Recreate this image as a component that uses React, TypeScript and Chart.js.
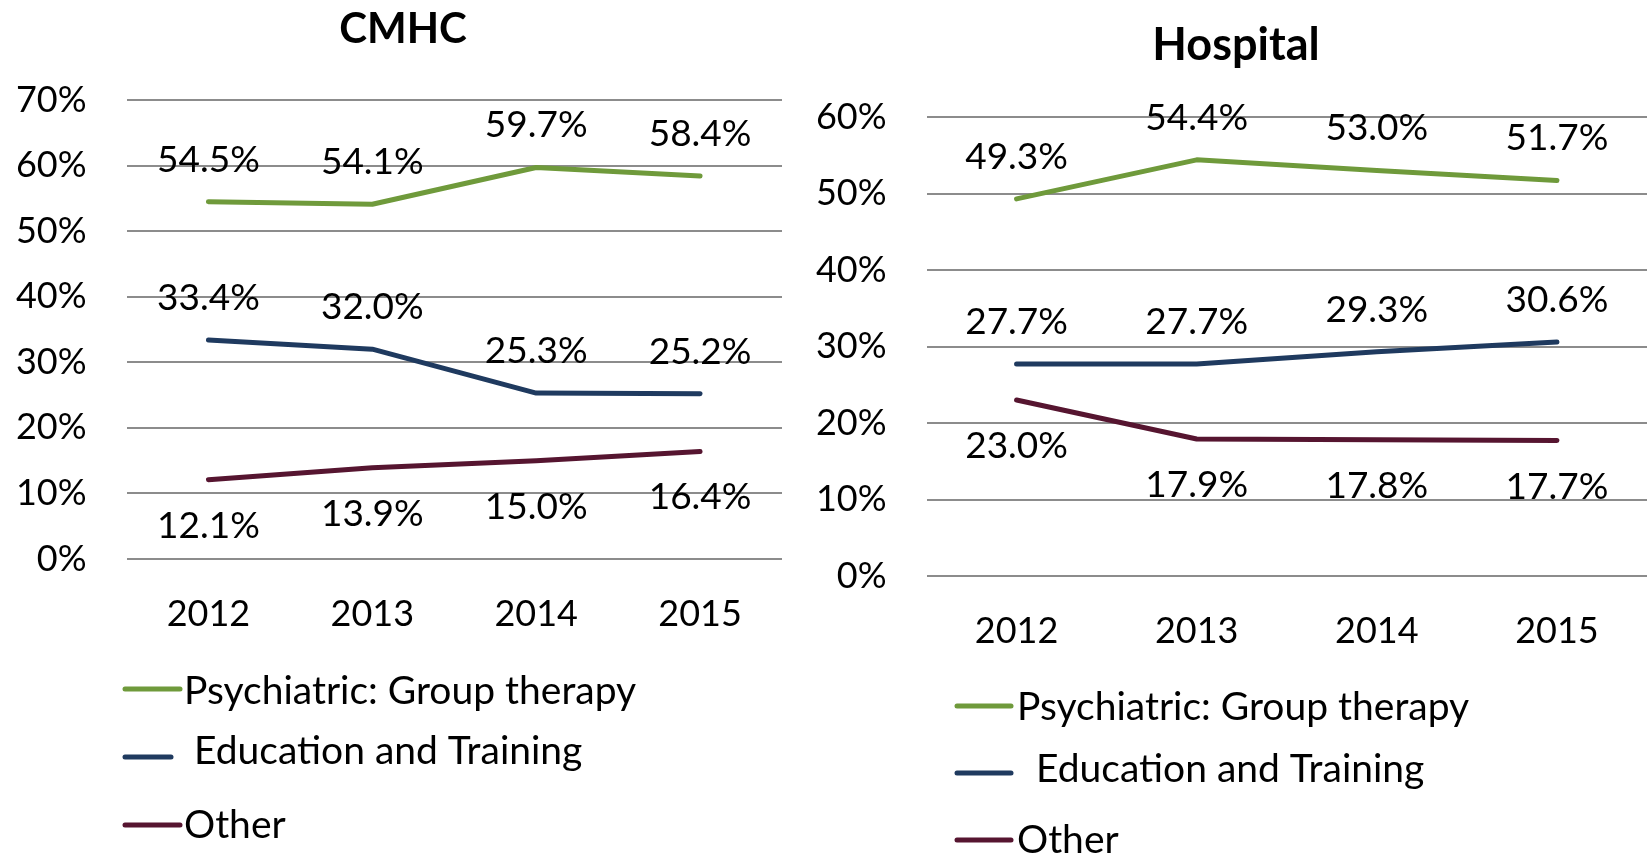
import React, { useEffect, useRef } from 'react';
import { Chart, registerables } from 'chart.js';

Chart.register(...registerables);

// ---------- data ----------
const years = ['2012', '2013', '2014', '2015'];
const seriesLabels = ['Psychiatric: Group therapy', ' Education and Training', 'Other'];
const seriesColors = ['#6F9A3B', '#1F3A5F', '#561530'];
const labelSides = ['above', 'above', 'below'];

const cmhcPsych = [54.5, 54.1, 59.7, 58.4];
const cmhcEdu = [33.4, 32.0, 25.3, 25.2];
const cmhcOther = [12.1, 13.9, 15.0, 16.4];

const hospPsych = [49.3, 54.4, 53.0, 51.7];
const hospEdu = [27.7, 27.7, 29.3, 30.6];
const hospOther = [23.0, 17.9, 17.8, 17.7];

const cmhcMax = 70;
const hospMax = 60;
const tickStep = 10;

const FONT = 'Lato, "Open Sans", sans-serif';

type PanelProps = {
  title: string;
  series: number[][];
  yMax: number;
  left: number;
  width: number;
  height: number;
  titleX: number;
  titleBaseline: number;
  titleSize: number;
  area: { top: number; left: number; right: number; bottom: number };
  legend: { lineX: number; lineLens: number[]; textXs: number[]; ys: number[]; textDy: number[] };
};

function Panel(p: PanelProps) {
  const ref = useRef<HTMLCanvasElement | null>(null);
  useEffect(() => {
    if (!ref.current) return;
    const xAxisH = 80;
    const dataLabels = {
      id: 'dataLabels',
      afterDatasetsDraw(chart: any) {
        const ctx = chart.ctx;
        ctx.save();
        ctx.font = `37px ${FONT}`;
        ctx.fillStyle = '#000';
        ctx.textAlign = 'center';
        ctx.textBaseline = 'middle';
        chart.data.datasets.forEach((ds: any, di: number) => {
          const meta = chart.getDatasetMeta(di);
          meta.data.forEach((pt: any, i: number) => {
            const v = ds.data[i] as number;
            const off = labelSides[di] === 'above' ? -42 : 46;
            ctx.fillText(v.toFixed(1) + '%', pt.x, pt.y + off);
          });
        });
        ctx.restore();
      },
    };
    const titleAndLegend = {
      id: 'titleAndLegend',
      afterDraw(chart: any) {
        const ctx = chart.ctx;
        ctx.save();
        ctx.fillStyle = '#000';
        ctx.textAlign = 'center';
        ctx.textBaseline = 'alphabetic';
        ctx.font = `bold ${p.titleSize}px ${FONT}`;
        ctx.fillText(p.title, p.titleX, p.titleBaseline);
        ctx.font = `39px ${FONT}`;
        ctx.textAlign = 'left';
        ctx.textBaseline = 'middle';
        chart.data.datasets.forEach((ds: any, di: number) => {
          const y = p.legend.ys[di];
          ctx.strokeStyle = ds.borderColor;
          ctx.lineWidth = 5;
          ctx.lineCap = 'round';
          ctx.beginPath();
          ctx.moveTo(p.legend.lineX, y);
          ctx.lineTo(p.legend.lineX + p.legend.lineLens[di], y);
          ctx.stroke();
          ctx.fillText(ds.label, p.legend.textXs[di], y + p.legend.textDy[di]);
        });
        ctx.restore();
      },
    };
    const chart = new Chart(ref.current, {
      type: 'line',
      data: {
        labels: years,
        datasets: p.series.map((vals, i) => ({
          label: seriesLabels[i],
          data: vals,
          borderColor: seriesColors[i],
          backgroundColor: seriesColors[i],
          borderWidth: 5,
          borderCapStyle: 'round',
          borderJoinStyle: 'round',
          pointRadius: 0,
          pointHoverRadius: 0,
          tension: 0,
          fill: false,
        })),
      },
      options: {
        responsive: false,
        animation: false,
        events: [],
        layout: {
          padding: {
            top: p.area.top,
            left: 0,
            right: p.width - p.area.right,
            bottom: p.height - p.area.bottom - xAxisH,
          },
        },
        plugins: {
          legend: { display: false },
          title: { display: false },
          tooltip: { enabled: false },
        },
        scales: {
          x: {
            offset: true,
            grid: { display: false, drawTicks: false },
            border: { display: false },
            ticks: {
              padding: 34,
              color: '#000',
              font: { family: FONT, size: 36 },
              maxRotation: 0,
              autoSkip: false,
            },
            afterFit(scale: any) {
              scale.height = xAxisH;
            },
          },
          y: {
            min: 0,
            max: p.yMax,
            grid: { color: '#8C8C8C', lineWidth: 2, drawTicks: false },
            border: { display: false },
            ticks: {
              stepSize: tickStep,
              padding: 40,
              color: '#000',
              font: { family: FONT, size: 36 },
              callback: (v: any) => `${v}%`,
            },
            afterFit(scale: any) {
              scale.width = p.area.left;
            },
          },
        },
      },
      plugins: [dataLabels, titleAndLegend],
    } as any);
    return () => chart.destroy();
  }, []);
  return (
    <canvas
      ref={ref}
      width={p.width}
      height={p.height}
      style={{ position: 'absolute', left: p.left, top: 0, width: p.width, height: p.height }}
    />
  );
}

export default function App() {
  return (
    <div style={{ position: 'absolute', left: 0, top: 0, width: 1651, height: 856, background: '#fff', overflow: 'hidden' }}>
      <Panel
        title="CMHC"
        series={[cmhcPsych, cmhcEdu, cmhcOther]}
        yMax={cmhcMax}
        left={0}
        width={815}
        height={856}
        titleX={403}
        titleBaseline={43}
        titleSize={42}
        area={{ top: 100, left: 126.5, right: 782, bottom: 559 }}
        legend={{ lineX: 125, lineLens: [55, 46, 55], textXs: [184, 184, 184], ys: [689, 757, 825], textDy: [2, -6, 0] }}
      />
      <Panel
        title="Hospital"
        series={[hospPsych, hospEdu, hospOther]}
        yMax={hospMax}
        left={815}
        width={836}
        height={856}
        titleX={421}
        titleBaseline={60}
        titleSize={45}
        area={{ top: 117, left: 111.5, right: 832, bottom: 576 }}
        legend={{ lineX: 142, lineLens: [54, 54, 54], textXs: [202, 211, 202], ys: [706, 773, 840], textDy: [1, -4, 0] }}
      />
    </div>
  );
}
